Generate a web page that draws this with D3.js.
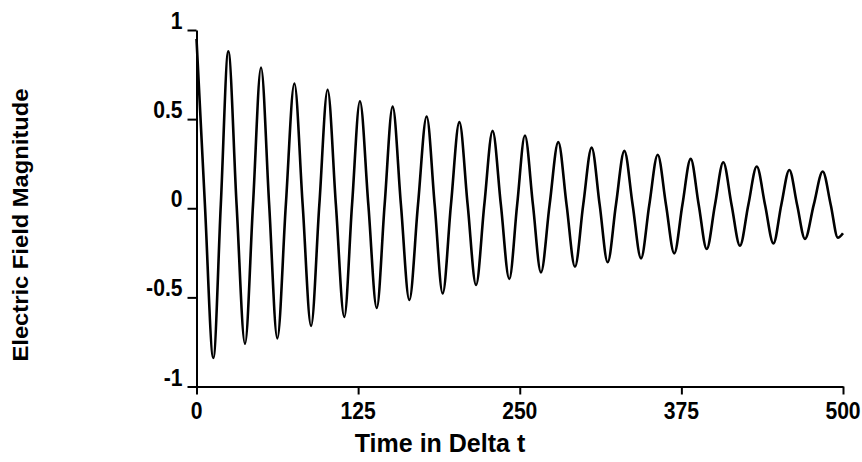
<!DOCTYPE html>
<html>
<head>
<meta charset="utf-8">
<script src="https://cdn.jsdelivr.net/npm/d3@7"></script>
<style>
  html, body { margin: 0; padding: 0; background: #fff; }
  svg { display: block; }
  .lbl { font-family: "Liberation Sans", Arial, sans-serif; font-weight: bold; fill: #000; }
</style>
</head>
<body>
<svg id="chart" width="862" height="462"></svg>
<script>
// Sampled field trace: time step (in Delta t) and electric field magnitude
const timeSteps = [
  0, 6.5, 13.0, 18.8, 24.6, 31.0, 37.5, 43.7, 49.9, 56.2,
  62.5, 69.1, 75.7, 82.1, 88.6, 95.0, 101.4, 107.8, 114.3, 120.3,
  126.4, 132.9, 139.4, 145.5, 151.7, 158.1, 164.6, 171.3, 178.0, 184.2,
  190.4, 196.8, 203.3, 209.7, 216.2, 222.6, 229.0, 235.4, 241.9, 248.0,
  254.0, 260.2, 266.4, 273.1, 279.8, 286.2, 292.7, 299.1, 305.6, 311.8,
  318.0, 324.4, 330.9, 337.3, 343.8, 350.2, 356.7, 363.1, 369.5, 375.8,
  382.2, 388.4, 394.6, 401.0, 407.4, 413.8, 420.3, 426.8, 433.3, 439.7,
  446.2, 452.3, 458.5, 464.5, 470.6, 477.4, 484.3, 490.5, 496.0, 500.0
];
const fieldValues = [
  0.95, 0.02, -0.84, 0.02, 0.88, 0.02, -0.76, 0.02, 0.79, 0.02,
  -0.73, 0.02, 0.70, 0.02, -0.66, 0.02, 0.665, 0.02, -0.61, 0.02,
  0.60, 0.02, -0.56, 0.02, 0.57, 0.02, -0.515, 0.02, 0.515, 0.02,
  -0.478, 0.02, 0.483, 0.02, -0.43, 0.02, 0.434, 0.02, -0.397, 0.02,
  0.408, 0.02, -0.36, 0.02, 0.371, 0.02, -0.328, 0.02, 0.34, 0.02,
  -0.303, 0.02, 0.322, 0.02, -0.281, 0.02, 0.30, 0.02, -0.253, 0.02,
  0.277, 0.02, -0.229, 0.02, 0.258, 0.02, -0.21, 0.02, 0.234, 0.02,
  -0.197, 0.02, 0.215, 0.02, -0.172, 0.02, 0.206, 0.02, -0.165, -0.14
];

const xTicks = [0, 125, 250, 375, 500];
const xTickLabels = ["0", "125", "250", "375", "500"];
const yTicks = [-1, -0.5, 0, 0.5, 1];
const yTickLabels = ["-1", "-0.5", "0", "0.5", "1"];

const xTitle = "Time in Delta t";
const yTitle = "Electric Field Magnitude";

const svg = d3.select("#chart");

const x = d3.scaleLinear().domain([0, 500]).range([196.5, 843]);
const y = d3.scaleLinear().domain([-1, 1]).range([386.5, 30]);

// Bold label, optionally squeezed horizontally, anchored at (px, py)
function label(parent, px, py, str, size, anchor, sx, rotate) {
  const rot = rotate ? ` rotate(${rotate})` : "";
  return parent.append("text")
    .attr("class", "lbl")
    .attr("transform", `translate(${px},${py})${rot} scale(${sx},1)`)
    .attr("text-anchor", anchor)
    .attr("font-size", size)
    .text(str);
}

// Curve
const points = timeSteps.map((t, i) => ({ t, v: fieldValues[i] }));
const line = d3.line()
  .x(d => x(d.t))
  .y(d => y(d.v))
  .curve(d3.curveMonotoneX);

svg.append("path")
  .datum(points)
  .attr("d", line)
  .attr("fill", "none")
  .attr("stroke", "#000")
  .attr("stroke-width", 2.6)
  .attr("stroke-linejoin", "round");

// Axes (tick marks and axis lines)
const xAxis = d3.axisBottom(x)
  .tickValues(xTicks)
  .tickFormat("")
  .tickSize(8)
  .tickSizeOuter(0);

const yAxis = d3.axisLeft(y)
  .tickValues(yTicks)
  .tickFormat("")
  .tickSize(9)
  .tickSizeOuter(0);

const gx = svg.append("g")
  .attr("transform", `translate(0,${y(-1)})`)
  .call(xAxis);

const gy = svg.append("g")
  .attr("transform", `translate(${x(0)},0)`)
  .call(yAxis);

[gx, gy].forEach(g => {
  g.select(".domain").attr("stroke", "#000").attr("stroke-width", 2);
  g.selectAll(".tick line").attr("stroke", "#000").attr("stroke-width", 2);
});

// Tick labels
xTicks.forEach((v, i) => {
  label(svg, x(v), y(-1) + 32, xTickLabels[i], 24, "middle", 0.88);
});
yTicks.forEach((v, i) => {
  label(svg, x(0) - 14, y(v) - 1, yTickLabels[i], 24, "end", 0.88);
});

// Axis titles
label(svg, 440, 452, xTitle, 25, "middle", 1.0);
label(svg, 28, 225, yTitle, 22, "middle", 1.08, -90);
</script>
</body>
</html>
